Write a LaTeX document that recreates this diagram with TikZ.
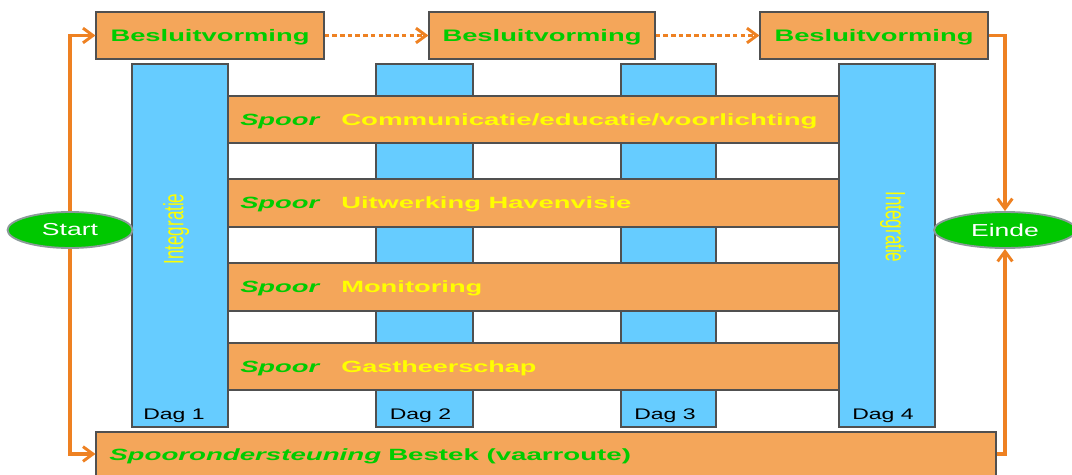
\documentclass[tikz,border=0pt]{standalone}
\usepackage{fontspec}
\setmainfont{Liberation Sans}
\usepackage{graphicx}
\usetikzlibrary{arrows.meta,shapes.geometric}
\definecolor{boxorange}{HTML}{F4A65A}
\definecolor{colblue}{HTML}{66CCFF}
\definecolor{txtgreen}{HTML}{00CC00}
\definecolor{txtyellow}{HTML}{FFFF00}
\definecolor{arrorange}{HTML}{EE8122}
\definecolor{ellgreen}{HTML}{00C800}
\definecolor{ellgrey}{HTML}{8C9A9A}
\definecolor{edgegrey}{HTML}{505050}
\newcommand\hstretch[2]{\scalebox{#1}[1]{#2}}
\begin{document}
\begin{tikzpicture}[x=0.75pt,y=-0.75pt,
  obox/.style={draw=edgegrey, line width=0.8pt, fill=boxorange, inner sep=0pt},
  bcol/.style={draw=edgegrey, line width=0.8pt, fill=colblue, inner sep=0pt, minimum width=72pt, minimum height=272.25pt},
  besl/.style={obox, minimum width=171pt, minimum height=35.25pt, text depth=0pt, text=txtgreen, font=\fontsize{12.5}{15}\selectfont\bfseries},
  bar/.style={obox, minimum width=458.25pt, minimum height=35.25pt},
  spoorlbl/.style={anchor=west, inner sep=0pt, text depth=0pt, text=txtgreen, font=\fontsize{12.2}{15}\selectfont\bfseries\itshape},
  spoortxt/.style={anchor=west, inner sep=0pt, text depth=0pt, text=txtyellow, font=\fontsize{12.2}{15}\selectfont\bfseries},
  daglbl/.style={inner sep=0pt, text depth=0pt, text=black, font=\fontsize{11.5}{14}\selectfont},
  integ/.style={inner sep=0pt, text=txtyellow, font=\fontsize{12.75}{15}\selectfont},
  term/.style={ellipse, draw=ellgrey, line width=1.4pt, fill=ellgreen, inner sep=0pt, minimum height=27pt, text=white, font=\fontsize{13}{15}\selectfont},
  conn/.style={draw=arrorange, line width=2.6pt, -{Straight Barb[length=7.5pt,width=11pt,line width=2.2pt]}},
  dconn/.style={conn, dash pattern=on 3.4pt off 2.4pt}
]
\useasboundingbox (0,0) rectangle (1072,475);
\clip (0,0) rectangle (1072,475);

% blue day columns
\node[bcol] (c1) at (180,245.5) {};
\node[bcol, minimum width=72.75pt] (c2) at (424.5,245.5) {};
\node[bcol, minimum width=71.25pt] (c3) at (668.5,245.5) {};
\node[bcol] (c4) at (887,245.5) {};

% decision boxes
\node[besl] (b1) at (210,35.5) {\hstretch{1.64}{Besluitvorming}};
\node[besl, minimum width=169.5pt] (b2) at (542,35.5) {\hstretch{1.64}{Besluitvorming}};
\node[besl] (b3) at (874,35.5) {\hstretch{1.64}{Besluitvorming}};

% tracks
\node[bar] (s1) at (533.5,119.5) {};
\node[bar, minimum height=36pt] (s2) at (533.5,203) {};
\node[bar, minimum height=36pt] (s3) at (533.5,287) {};
\node[bar] (s4) at (533.5,366.5) {};

\node[spoorlbl] (s1a) at (240,119.5) {\hstretch{1.68}{Spoor}};
\node[spoortxt] (s1b) at (341,119.5) {\hstretch{1.70}{Communicatie/educatie/voorlichting}};
\node[spoorlbl] (s2a) at (240,203) {\hstretch{1.68}{Spoor}};
\node[spoortxt] (s2b) at (341,203) {\hstretch{1.68}{Uitwerking Havenvisie}};
\node[spoorlbl] (s3a) at (240,287) {\hstretch{1.68}{Spoor}};
\node[spoortxt] (s3b) at (341,287) {\hstretch{1.68}{Monitoring}};
\node[spoorlbl] (s4a) at (240,366.5) {\hstretch{1.68}{Spoor}};
\node[spoortxt] (s4b) at (341,366.5) {\hstretch{1.66}{Gastheerschap}};

% day labels
\node[daglbl] (d1) at (174,414) {\hstretch{1.5}{Dag 1}};
\node[daglbl] (d2) at (420.5,414) {\hstretch{1.5}{Dag 2}};
\node[daglbl] (d3) at (665,414) {\hstretch{1.5}{Dag 3}};
\node[daglbl] (d4) at (883,414) {\hstretch{1.5}{Dag 4}};

% integration labels
\node[integ, rotate=90] (i1) at (176,229) {\scalebox{1}[1.65]{Integratie}};
\node[integ, rotate=-90] (i4) at (893,227) {\scalebox{1}[1.65]{Integratie}};

% bottom support bar
\node[obox, minimum width=675pt, minimum height=33pt] (bot) at (546,454) {};
\node[spoorlbl] (bta) at (109,455) {\hstretch{1.7}{Spoorondersteuning}};
\node[spoortxt, text=txtgreen] (btb) at (388,455) {\hstretch{1.7}{Bestek (vaarroute)}};

% connectors
\draw[conn] (70,230) |- (b1.west);
\draw[conn] (70,230) |- (bot.west);
\draw[dconn] (b1) -- (b2);
\draw[dconn] (b2) -- (b3);

% start / end
\node[term, minimum width=93.75pt] (start) at (70,230) {\hstretch{1.53}{Start}};
\node[term, minimum width=106.5pt] (einde) at (1005,230) {\hstretch{1.53}{Einde}};

\draw[conn] (b3.east) -| (einde.north);
\draw[conn] (bot.east) -| (einde.south);
\end{tikzpicture}
\end{document}
